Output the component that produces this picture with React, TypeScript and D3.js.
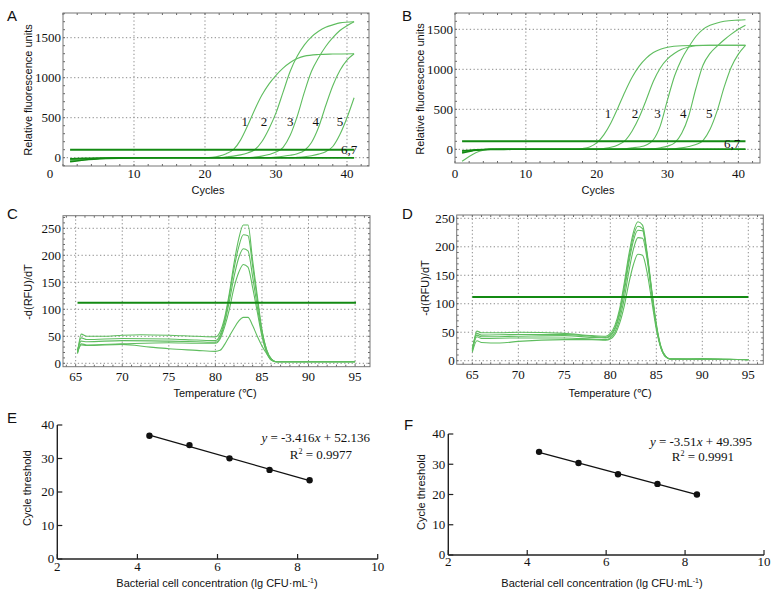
import React from "react";
import * as d3 from "d3";

type Pt = [number, number];

// ---------- Panel A: amplification curves (cycle, RFU) ----------
const ampA1: Pt[] = [[1,-45],[3,-25],[6,-8],[10,0],[20,0],[21,5],[22,20],[23,50],[24,100],[25,220],[26,400],[27,600],[28,780],[29,920],[30,1030],[31,1120],[32,1190],[33,1240],[34,1270],[36,1290],[38,1296],[41,1300]];
const ampA2: Pt[] = [[1,-35],[3,-20],[6,-6],[10,0],[22,0],[23,10],[24,20],[25,35],[26,60],[27,100],[28,200],[29,360],[30,560],[31,820],[32,1080],[33,1270],[34,1410],[35,1510],[36,1580],[37,1630],[38,1660],[39,1685],[41,1700]];
const ampA3: Pt[] = [[1,-25],[3,-15],[6,-5],[10,0],[26,0],[27,8],[28,20],[29,40],[30,70],[31,130],[32,280],[33,520],[34,820],[35,1080],[36,1250],[37,1390],[38,1500],[39,1590],[40,1650],[41,1700]];
const ampA4: Pt[] = [[1,-20],[3,-12],[6,-4],[10,0],[29,0],[30,8],[31,18],[32,30],[33,50],[34,90],[35,190],[36,380],[37,650],[38,900],[39,1090],[40,1220],[41,1300]];
const ampA5: Pt[] = [[1,-40],[3,-22],[6,-7],[10,0],[32,0],[33,5],[34,12],[35,25],[36,45],[37,75],[38,140],[39,290],[40,500],[41,750]];
const ampA6: Pt[] = [[1,-50],[3,-28],[6,-10],[10,-2],[20,0],[41,0]];
const ampA7: Pt[] = [[1,-15],[3,-8],[6,-3],[10,0],[41,0]];
const thresholdA: Pt[] = [[1,100],[41,100]];
const curveLabelsA = ["1","2","3","4","5","6,7"];
const curveLabelPosA: Pt[] = [[25.6,450],[28.3,450],[32.0,450],[35.6,450],[39.0,450],[40.3,96]];

// ---------- Panel B ----------
const ampB1: Pt[] = [[1,-40],[3,-10],[5,0],[17,0],[18,10],[19,30],[20,80],[21,180],[22,330],[23,520],[24,720],[25,900],[26,1040],[27,1140],[28,1210],[29,1250],[30,1275],[32,1295],[35,1300],[41,1300]];
const ampB2: Pt[] = [[1,-150],[2,-90],[3,-40],[4,-12],[5,0],[20,0],[21,10],[22,25],[23,55],[24,110],[25,230],[26,400],[27,620],[28,850],[29,1020],[30,1130],[31,1200],[32,1250],[33,1280],[34,1295],[36,1300],[41,1300]];
const ampB3: Pt[] = [[1,-30],[3,-8],[5,0],[23,0],[24,8],[25,18],[26,30],[27,55],[28,120],[29,300],[30,620],[31,920],[32,1130],[33,1280],[34,1410],[35,1500],[36,1550],[37,1580],[38,1600],[40,1615],[41,1620]];
const ampB4: Pt[] = [[1,-35],[3,-10],[5,0],[27,0],[28,8],[29,20],[30,40],[31,80],[32,200],[33,420],[34,760],[35,1050],[36,1200],[37,1290],[38,1370],[39,1440],[40,1500],[41,1550]];
const ampB5: Pt[] = [[1,-25],[3,-6],[5,0],[30,0],[31,8],[32,18],[33,35],[34,60],[35,110],[36,250],[37,480],[38,780],[39,1030],[40,1190],[41,1300]];
const ampB6: Pt[] = [[1,-45],[3,-12],[5,-2],[8,0],[41,0]];
const ampB7: Pt[] = [[1,-20],[3,-5],[5,0],[41,0]];
const thresholdB: Pt[] = [[1,100],[41,100]];
const curveLabelsB = ["1","2","3","4","5","6,7"];
const curveLabelPosB: Pt[] = [[21.6,450],[25.4,450],[28.6,450],[32.2,450],[35.9,450],[39.1,66]];

// ---------- Panel C: melt curves (temperature, -dRFU/dT) ----------
const meltC1: Pt[] = [[65.2,18],[65.6,54],[66.2,50],[68,50],[70,52],[72,53],[75,52],[78,50],[80,49],[80.5,58],[81,85],[81.5,130],[82,185],[82.5,230],[83,256],[83.5,256],[84,190],[84.5,125],[85,62],[85.5,25],[86,8],[86.5,3],[90,3],[95,3]];
const meltC2: Pt[] = [[65.2,22],[65.6,47],[66.2,44],[70,46],[75,45],[78,43],[80,42],[80.5,52],[81,80],[81.5,125],[82,175],[82.5,215],[83,238],[83.5,236],[84,180],[84.5,118],[85,60],[85.5,25],[86,8],[86.5,3],[95,3]];
const meltC3: Pt[] = [[65.2,25],[65.6,41],[66.2,40],[70,42],[75,41],[78,40],[80,39],[80.5,48],[81,75],[81.5,115],[82,160],[82.5,195],[83,212],[83.5,208],[84,160],[84.5,105],[85,55],[85.5,22],[86,7],[86.5,3],[95,3]];
const meltC4: Pt[] = [[65.2,20],[65.6,36],[66.2,34],[70,36],[75,38],[78,37],[80,37],[80.5,45],[81,68],[81.5,100],[82,140],[82.5,168],[83,183],[83.5,178],[84,140],[84.5,95],[85,50],[85.5,20],[86,6],[86.5,3],[95,3]];
const meltC5: Pt[] = [[65.2,20],[65.6,34],[66.2,33],[70,35],[73,30],[75,27],[78,24],[80,22],[80.5,24],[81,35],[81.5,50],[82,65],[82.5,78],[83,85],[83.5,85],[84,70],[84.5,50],[85,32],[85.5,18],[86,6],[86.5,3],[95,3]];
const thresholdC: Pt[] = [[65.2,112],[95.1,112]];

// ---------- Panel D ----------
const meltD1: Pt[] = [[65,17],[65.5,52],[66,49],[68,49],[70,50],[75,48],[78,44],[79.5,43],[80,48],[80.5,62],[81,90],[81.5,135],[82,185],[82.5,225],[83,244],[83.5,238],[84,190],[84.5,125],[85,65],[85.5,25],[86,8],[86.5,3],[88,3],[90,4],[93,3],[95,1]];
const meltD2: Pt[] = [[65,20],[65.5,48],[66,45],[70,46],[75,46],[78,43],[79.5,41],[80,45],[80.5,58],[81,85],[81.5,128],[82,178],[82.5,218],[83,236],[83.5,232],[84,185],[84.5,122],[85,62],[85.5,24],[86,8],[86.5,3],[95,2]];
const meltD3: Pt[] = [[65,22],[65.5,45],[66,42],[70,43],[75,44],[78,41],[79.5,40],[80,43],[80.5,55],[81,80],[81.5,120],[82,170],[82.5,210],[83,229],[83.5,228],[84,185],[84.5,120],[85,60],[85.5,23],[86,7],[86.5,3],[95,2]];
const meltD4: Pt[] = [[65,18],[65.5,42],[66,39],[70,40],[75,40],[78,38],[79.5,37],[80,40],[80.5,50],[81,72],[81.5,108],[82,155],[82.5,195],[83,216],[83.5,215],[84,178],[84.5,118],[85,60],[85.5,23],[86,7],[86.5,3],[95,2]];
const meltD5: Pt[] = [[65,15],[65.5,35],[66,32],[68,31],[70,34],[75,37],[78,37],[79.5,36],[80,38],[80.5,46],[81,65],[81.5,95],[82,135],[82.5,168],[83,187],[83.5,185],[84,155],[84.5,105],[85,55],[85.5,22],[86,7],[86.5,3],[95,2]];
const thresholdD: Pt[] = [[65,112],[95,112]];

// ---------- Panels E & F: standard curves ----------
const concE = [4.3, 5.3, 6.3, 7.3, 8.3];
const ctE = [36.8, 34.0, 30.05, 26.6, 23.5];
const concF = [4.3, 5.3, 6.3, 7.3, 8.3];
const ctF = [34.1, 30.4, 26.7, 23.5, 20.0];
const eqE = { slope: "-3.416", intercept: "52.136", r2: "0.9977" };
const eqF = { slope: "-3.51", intercept: "49.395", r2: "0.9991" };

// ---------- ticks ----------
const ampXTicks = [0, 10, 20, 30, 40];
const ampYTicks = [0, 500, 1000, 1500];
const meltXTicks = [65, 70, 75, 80, 85, 90, 95];
const meltYTicks = [0, 50, 100, 150, 200, 250];
const stdXTicks = [2, 4, 6, 8, 10];
const stdYTicks = [0, 10, 20, 30, 40];

const SERIF = "'Liberation Serif', 'Times New Roman', serif";
const SANS = "'Liberation Sans', Arial, sans-serif";
const CURVE = "#5fbd5f";
const THRESH = "#138a13";

interface FrameProps {
  id: string;
  letter: string;
  letterPos: [number, number];
  left: number; right: number; top: number; bottom: number;
  xDomain: [number, number]; yDomain: [number, number];
  xTicks: number[]; yTicks: number[];
  xMinor: number; yMinor: number;
  curves: Pt[][];
  flat?: Pt[][];
  threshold: Pt[];
  labels?: string[]; labelPos?: Pt[];
  xTitle: string; yTitle: string;
  xTitlePos: [number, number]; yTitlePos: [number, number];
  xLabelY: number;
  zeroDx?: number;
}

function FramePanel(p: FrameProps) {
  const x = d3.scaleLinear().domain(p.xDomain).range([p.left, p.right]);
  const y = d3.scaleLinear().domain(p.yDomain).range([p.bottom, p.top]);
  const line = d3.line<Pt>().x(d => x(d[0])).y(d => y(d[1])).curve(d3.curveMonotoneX);
  const straight = d3.line<Pt>().x(d => x(d[0])).y(d => y(d[1]));
  const clipId = `clip-${p.id}`;
  const xm = d3.range(Math.ceil(p.xDomain[0] / p.xMinor) * p.xMinor, p.xDomain[1], p.xMinor);
  const ym = d3.range(Math.ceil(p.yDomain[0] / p.yMinor) * p.yMinor, p.yDomain[1], p.yMinor);
  const grid = { stroke: "#8c8c8c", strokeWidth: 1, strokeDasharray: "1.3 2.4" };
  return (
    <g>
      <defs>
        <clipPath id={clipId}>
          <rect x={p.left} y={p.top} width={p.right - p.left} height={p.bottom - p.top} />
        </clipPath>
      </defs>
      {p.xTicks.filter(t => x(t) > p.left + 1 && x(t) < p.right - 1).map(t => (
        <line key={"gx" + t} x1={x(t)} x2={x(t)} y1={p.top} y2={p.bottom} {...grid} />
      ))}
      {p.yTicks.filter(t => y(t) > p.top + 1 && y(t) < p.bottom - 1).map(t => (
        <line key={"gy" + t} y1={y(t)} y2={y(t)} x1={p.left} x2={p.right} {...grid} />
      ))}
      {xm.map(t => (
        <g key={"mx" + t}>
          <line x1={x(t)} x2={x(t)} y1={p.bottom} y2={p.bottom - 2} stroke="#666" />
          <line x1={x(t)} x2={x(t)} y1={p.top} y2={p.top + 2} stroke="#666" />
        </g>
      ))}
      {ym.map(t => (
        <g key={"my" + t}>
          <line y1={y(t)} y2={y(t)} x1={p.left} x2={p.left + 2} stroke="#666" />
          <line y1={y(t)} y2={y(t)} x1={p.right} x2={p.right - 2} stroke="#666" />
        </g>
      ))}
      <g clipPath={`url(#${clipId})`}>
        {p.curves.map((c, i) => (
          <path key={"c" + i} d={line(c) || ""} fill="none" stroke={CURVE} strokeWidth={1.1} />
        ))}
        {(p.flat || []).map((c, i) => (
          <path key={"f" + i} d={line(c) || ""} fill="none" stroke={THRESH} strokeWidth={1.6} />
        ))}
        <path d={straight(p.threshold) || ""} fill="none" stroke={THRESH} strokeWidth={2} />
      </g>
      <rect x={p.left} y={p.top} width={p.right - p.left} height={p.bottom - p.top} fill="none" stroke="#777" strokeWidth={1} />
      {p.xTicks.map(t => (
        <text key={"lx" + t} x={x(t) + (t === 0 && p.zeroDx ? p.zeroDx : 0)} y={p.xLabelY} textAnchor="middle"
          fontFamily={SERIF} fontSize={13} fill="#111">{t}</text>
      ))}
      {p.yTicks.map(t => (
        <text key={"ly" + t} x={p.left - 2} y={y(t)} dy="0.34em" textAnchor="end"
          fontFamily={SERIF} fontSize={13} fill="#111">{t}</text>
      ))}
      {(p.labels || []).map((l, i) => (
        <text key={"cl" + i} x={x(p.labelPos![i][0])} y={y(p.labelPos![i][1])} dy="0.34em" textAnchor="middle"
          fontFamily={SERIF} fontSize={13} fill="#111">{l}</text>
      ))}
      <text x={p.xTitlePos[0]} y={p.xTitlePos[1]} textAnchor="middle" fontFamily={SANS} fontSize={11} fill="#111">{p.xTitle}</text>
      <text transform={`translate(${p.yTitlePos[0]},${p.yTitlePos[1]}) rotate(-90)`} dy="0.35em" textAnchor="middle"
        fontFamily={SANS} fontSize={11} fill="#111">{p.yTitle}</text>
      <text x={p.letterPos[0]} y={p.letterPos[1]} fontFamily={SANS} fontSize={15} fill="#111">{p.letter}</text>
    </g>
  );
}

interface StdProps {
  letter: string; letterPos: [number, number];
  left: number; right: number; top: number; bottom: number;
  conc: number[]; ct: number[];
  eq: { slope: string; intercept: string; r2: string };
  eqPos: [number, number]; r2Pos: [number, number];
  xLabelY: number;
  xTitlePos: [number, number]; yTitlePos: [number, number];
}

function StdPanel(p: StdProps) {
  const x = d3.scaleLinear().domain([2, 10]).range([p.left, p.right]);
  const y = d3.scaleLinear().domain([0, 40]).range([p.bottom, p.top]);
  const n = p.conc.length;
  const mx = d3.mean(p.conc)!, my = d3.mean(p.ct)!;
  let sxy = 0, sxx = 0;
  for (let i = 0; i < n; i++) { sxy += (p.conc[i] - mx) * (p.ct[i] - my); sxx += (p.conc[i] - mx) ** 2; }
  const b = sxy / sxx, a = my - b * mx;
  const x0 = d3.min(p.conc)!, x1 = d3.max(p.conc)!;
  return (
    <g>
      <line x1={p.left} x2={p.right} y1={p.bottom} y2={p.bottom} stroke="#222" strokeWidth={1.4} />
      <line x1={p.left} x2={p.left} y1={p.bottom} y2={p.top} stroke="#222" strokeWidth={1.4} />
      {stdXTicks.map(t => (
        <g key={"x" + t}>
          <line x1={x(t)} x2={x(t)} y1={p.bottom} y2={p.bottom - 5} stroke="#222" strokeWidth={1.2} />
          <text x={x(t)} y={p.xLabelY} textAnchor="middle" fontFamily={SERIF} fontSize={13} fill="#111">{t}</text>
        </g>
      ))}
      {stdYTicks.map(t => (
        <g key={"y" + t}>
          <line x1={p.left} x2={p.left + 5} y1={y(t)} y2={y(t)} stroke="#222" strokeWidth={1.2} />
          <text x={p.left - 3} y={y(t)} dy="0.34em" textAnchor="end" fontFamily={SERIF} fontSize={13} fill="#111">{t}</text>
        </g>
      ))}
      <line x1={x(x0)} x2={x(x1)} y1={y(a + b * x0)} y2={y(a + b * x1)} stroke="#111" strokeWidth={1.3} />
      {p.conc.map((c, i) => (
        <circle key={i} cx={x(c)} cy={y(p.ct[i])} r={3.2} fill="#111" />
      ))}
      <text x={p.eqPos[0]} y={p.eqPos[1]} textAnchor="end" fontFamily={SERIF} fontSize={13} fill="#111">
        <tspan fontStyle="italic">y</tspan>{` = ${p.eq.slope}`}<tspan fontStyle="italic">x</tspan>{` + ${p.eq.intercept}`}
      </text>
      <text x={p.r2Pos[0]} y={p.r2Pos[1]} textAnchor="middle" fontFamily={SERIF} fontSize={13} fill="#111">
        {"R"}<tspan fontSize={8} dy={-5}>2</tspan><tspan dy={5}>{` = ${p.eq.r2}`}</tspan>
      </text>
      <text x={p.xTitlePos[0]} y={p.xTitlePos[1]} textAnchor="middle" fontFamily={SANS} fontSize={11} fill="#111">
        {"Bacterial cell concentration (lg CFU·mL"}<tspan fontSize={7} dy={-4}>-1</tspan><tspan dy={4}>)</tspan>
      </text>
      <text transform={`translate(${p.yTitlePos[0]},${p.yTitlePos[1]}) rotate(-90)`} dy="0.35em" textAnchor="middle"
        fontFamily={SANS} fontSize={11} fill="#111">Cycle threshold</text>
      <text x={p.letterPos[0]} y={p.letterPos[1]} fontFamily={SANS} fontSize={15} fill="#111">{p.letter}</text>
    </g>
  );
}

export default function App() {
  return (
    <svg width={773} height={597} viewBox="0 0 773 597"
      style={{ position: "absolute", left: 0, top: 0, background: "#fff" }}>
      <rect width={773} height={597} fill="#fff" />
      <FramePanel id="A" letter="A" letterPos={[7, 21]}
        left={63} right={369} top={13} bottom={166}
        xDomain={[0, 43.1]} yDomain={[-103.75, 1808.75]}
        xTicks={ampXTicks} yTicks={ampYTicks} xMinor={2} yMinor={100}
        curves={[ampA1, ampA2, ampA3, ampA4, ampA5]} flat={[ampA6, ampA7]} threshold={thresholdA}
        labels={curveLabelsA} labelPos={curveLabelPosA}
        xTitle="Cycles" yTitle="Relative fluorescence units"
        xTitlePos={[208, 194]} yTitlePos={[28, 90]} xLabelY={178} zeroDx={-13} />
      <FramePanel id="B" letter="B" letterPos={[402, 21]}
        left={455} right={760} top={13} bottom={163}
        xDomain={[0, 43.05]} yDomain={[-171, 1704]}
        xTicks={ampXTicks} yTicks={ampYTicks} xMinor={2} yMinor={100}
        curves={[ampB1, ampB2, ampB3, ampB4, ampB5]} flat={[ampB6, ampB7]} threshold={thresholdB}
        labels={curveLabelsB} labelPos={curveLabelPosB}
        xTitle="Cycles" yTitle="Relative fluorescence units"
        xTitlePos={[598, 194]} yTitlePos={[420, 89]} xLabelY={178} />
      <FramePanel id="C" letter="C" letterPos={[7, 219]}
        left={63} right={370} top={215.7} bottom={366.7}
        xDomain={[63.64, 96.6]} yDomain={[-6.3, 273.3]}
        xTicks={meltXTicks} yTicks={meltYTicks} xMinor={1} yMinor={10}
        curves={[meltC1, meltC2, meltC3, meltC4, meltC5]} threshold={thresholdC}
        xTitle="Temperature (℃)" yTitle="-d(RFU)/dT"
        xTitlePos={[215, 397]} yTitlePos={[28, 292]} xLabelY={381} />
      <FramePanel id="D" letter="D" letterPos={[402, 219]}
        left={456.7} right={763.3} top={215} bottom={364.3}
        xDomain={[63.3, 96.63]} yDomain={[-6.3, 255.8]}
        xTicks={meltXTicks} yTicks={meltYTicks} xMinor={1} yMinor={10}
        curves={[meltD1, meltD2, meltD3, meltD4, meltD5]} threshold={thresholdD}
        xTitle="Temperature (℃)" yTitle="-d(RFU)/dT"
        xTitlePos={[610, 397]} yTitlePos={[425, 288]} xLabelY={379} />
      <StdPanel letter="E" letterPos={[7, 423]}
        left={57.3} right={377.7} top={425} bottom={559}
        conc={concE} ct={ctE} eq={eqE} eqPos={[370, 442]} r2Pos={[321, 459]}
        xLabelY={571} xTitlePos={[217, 587]} yTitlePos={[27, 488]} />
      <StdPanel letter="F" letterPos={[404, 430]}
        left={448.3} right={764} top={434} bottom={555}
        conc={concF} ct={ctF} eq={eqF} eqPos={[752, 446]} r2Pos={[703, 461]}
        xLabelY={566} xTitlePos={[602, 587]} yTitlePos={[421, 492]} />
    </svg>
  );
}
